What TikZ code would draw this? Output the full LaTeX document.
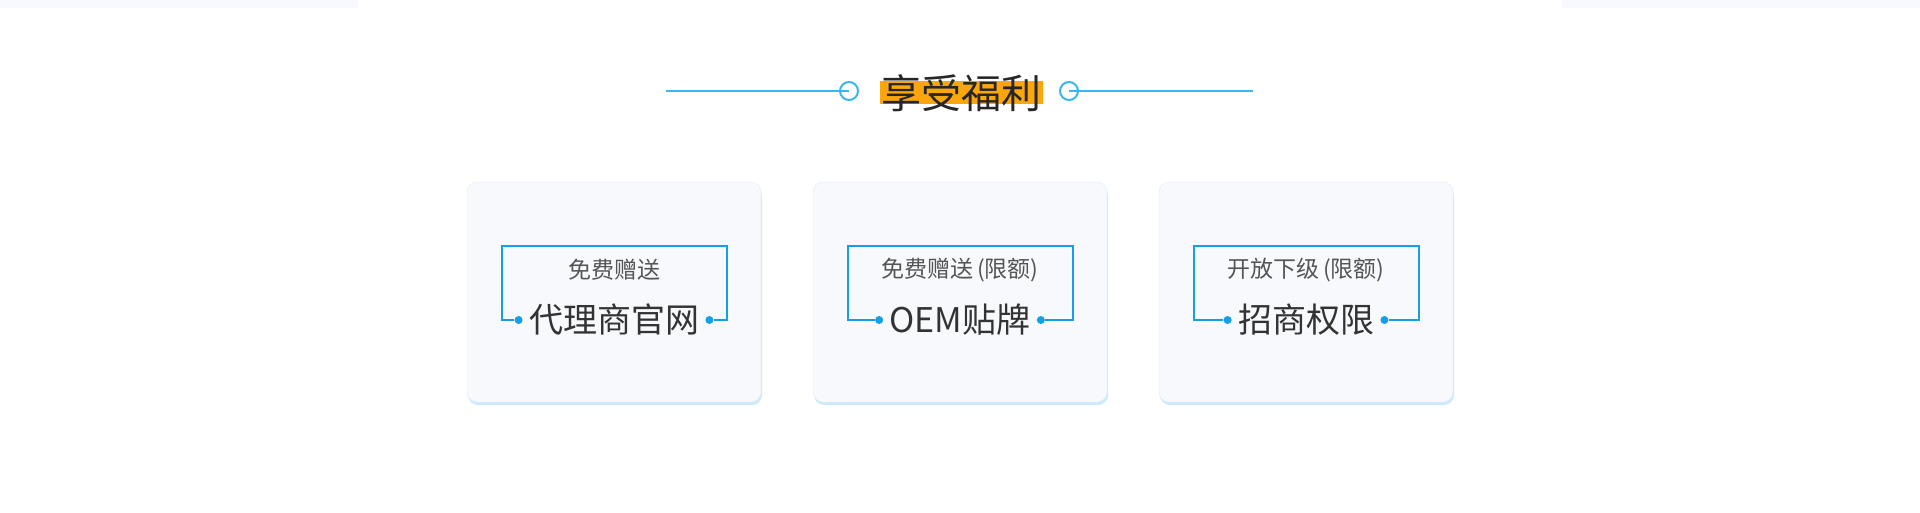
\documentclass[tikz,border=0pt]{standalone}
\usepackage{fontspec}
\setmainfont{Noto Sans CJK SC}
\usetikzlibrary{positioning}
\usetikzlibrary{shadows}
\definecolor{lineblue}{HTML}{3DB6EF}
\definecolor{brblue}{HTML}{159FE6}
\definecolor{cardfill}{HTML}{F7F9FD}
\definecolor{cardedge}{HTML}{DDEFFB}
\definecolor{cardshadow}{HTML}{CDE9FA}
\definecolor{hlorange}{HTML}{FBA60C}
\definecolor{stripfill}{HTML}{F8F9FE}
\definecolor{subgray}{HTML}{555555}
\definecolor{maingray}{HTML}{333333}
\tikzstyle{cardbox} = [rectangle, draw=cardedge, fill=cardfill, rounded corners=10pt,
    minimum width=294pt, minimum height=220pt,
    drop shadow={shadow xshift=1pt, shadow yshift=-3pt, fill=cardshadow, opacity=1}]
\tikzstyle{subtext} = [font=\fontsize{23}{28}\selectfont, text=subgray, inner sep=0pt]
\tikzstyle{maintext} = [font=\fontsize{34}{40}\selectfont, text=maingray, inner sep=0pt]
\tikzstyle{titletext} = [font=\fontsize{40}{46}\selectfont, text=black!85, inner sep=0pt]
\tikzstyle{pindot} = [circle, fill=brblue, minimum size=8pt, inner sep=0pt]
\tikzstyle{ringnode} = [circle, draw=lineblue, line width=2pt, minimum size=18pt, inner sep=0pt]
\tikzstyle{bracket} = [draw=brblue, line width=2pt]

\begin{document}
\begin{tikzpicture}[x=1pt,y=-1pt]
    \useasboundingbox (0,0) rectangle (1920,512);
    \fill[white] (0,0) rectangle (1920,512);
    \fill[stripfill] (0,0) rectangle (358,8);
    \fill[stripfill] (1562,0) rectangle (1920,8);

    \fill[hlorange] (880,81) rectangle (1043,104);
    \node[titletext] (title) at (961,93) {享受福利};
    \node[ringnode] (lring) at (849,91) {};
    \node[ringnode] (rring) at (1069,91) {};
    \coordinate (lend) at (666,91);
    \coordinate (rend) at (1253,91);
    \draw[lineblue, line width=2pt] (lend) -- (lring.center);
    \draw[lineblue, line width=2pt] (rring.center) -- (rend);

    \node[cardbox] (card1) at (614,292) {};
    \node[subtext] (sub1) at (614,270) {免费赠送};
    \node[maintext] (main1) at (614,320) {代理商官网};
    \node[pindot, left=6pt of main1] (l1) {};
    \node[pindot, right=6pt of main1] (r1) {};
    \coordinate (t1l) at (501.5,246);
    \coordinate (t1r) at (726.5,246);
    \draw[bracket] (l1) -| (t1l) -- (t1r) |- (r1);

    \node[cardbox] (card2) at (960,292) {};
    \node[subtext] (sub2) at (960,270) {免费赠送\hspace{4pt}(限额)};
    \node[maintext] (main2) at (960,320) {OEM贴牌};
    \node[pindot, left=6pt of main2] (l2) {};
    \node[pindot, right=6pt of main2] (r2) {};
    \coordinate (t2l) at (848,246);
    \coordinate (t2r) at (1073,246);
    \draw[bracket] (l2) -| (t2l) -- (t2r) |- (r2);

    \node[cardbox] (card3) at (1306,292) {};
    \node[subtext] (sub3) at (1306,270) {开放下级\hspace{4pt}(限额)};
    \node[maintext] (main3) at (1306,320) {招商权限};
    \node[pindot, left=6pt of main3] (l3) {};
    \node[pindot, right=6pt of main3] (r3) {};
    \coordinate (t3l) at (1193.5,246);
    \coordinate (t3r) at (1418.5,246);
    \draw[bracket] (l3) -| (t3l) -- (t3r) |- (r3);
\end{tikzpicture}
\end{document}
